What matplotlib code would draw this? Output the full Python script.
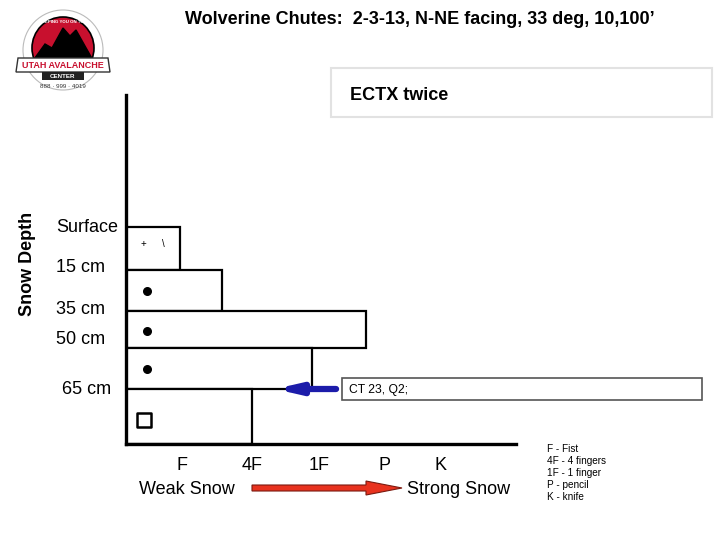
import numpy as np
import matplotlib
matplotlib.use("Agg")
import matplotlib.pyplot as plt
from matplotlib.patches import Rectangle, Circle, Polygon, FancyArrow
from matplotlib.transforms import blended_transform_factory

plt.rcParams['font.family'] = ['Liberation Sans', 'DejaVu Sans']

title = "Wolverine Chutes:  2-3-13, N-NE facing, 33 deg, 10,100\u2019"
note_test = "ECTX twice"
note_ct = "CT 23, Q2;"

# layers, top to bottom (schematic depth units below surface)
layer_top = [0, 43, 84, 121, 162]
layer_bottom = [43, 84, 121, 162, 217]
# hand hardness at right edge of each layer (F=1, 4F=2, 1F=3, P=4, K=5)
layer_hardness = [0.97, 1.62, 3.83, 3.0, 2.08]

depth_labels = ["Surface", "15 cm", "35 cm", "50 cm", "65 cm"]
depth_label_pos = [0, 41, 83, 113, 162]
depth_label_x = [56, 56, 56, 56, 62]

hard_labels = ["F", "4F", "1F", "P", "K"]
hard_pos = [1.0, 2.08, 3.11, 4.12, 4.98]

# grain form symbols (hardness-x, depth)
dot_x = [0.46, 0.46, 0.46]
dot_y = [64, 104, 142]
square_x = [0.42]
square_y = [193]
facet_text = [(0.40, 17, "+"), (0.71, 17, "\\")]

ct_depth = 162
ct_arrow = (3.37, 2.43)

legend_lines = ["F - Fist", "4F - 4 fingers", "1F - 1 finger", "P - pencil", "K - knife"]

W, H = 720, 540
fig = plt.figure(figsize=(7.2, 5.4), dpi=100)

# overlay in pixel coordinates for decorations
ov = fig.add_axes([0, 0, 1, 1], zorder=0)
ov.set_xlim(0, W)
ov.set_ylim(H, 0)
ov.axis('off')

ax = fig.add_axes([126 / W, 1 - 444 / H, (516 - 126) / W, (444 - 95) / H], zorder=2)
ax.patch.set_alpha(0)
x0 = 0.138
ax.set_xlim(x0, x0 + 6.0)
ax.set_ylim(217, -132)
for s in ['top', 'right']:
    ax.spines[s].set_visible(False)
for s in ['left', 'bottom']:
    ax.spines[s].set_linewidth(2.4)
    ax.spines[s].set_color('black')
ax.set_yticks([])
ax.set_xticks([])

heights = np.array(layer_bottom) - np.array(layer_top)
ax.barh(layer_top, np.array(layer_hardness) - x0, height=heights, left=x0,
        align='edge', color='white', edgecolor='black', linewidth=1.6, zorder=1)

ax.scatter(dot_x, dot_y, s=30, color='black', zorder=3)
ax.scatter(square_x, square_y, s=110, marker='s', facecolor='white',
           edgecolor='black', linewidth=1.8, zorder=3)
for fx, fy, t in facet_text:
    ax.text(fx, fy, t, fontsize=7, ha='center', va='center', zorder=3)

# hardness labels
tick_y = (444 - 466) / (444 - 95)
for p, lab in zip(hard_pos, hard_labels):
    ax.text(p, tick_y, lab, fontsize=13, ha='center', va='center',
            transform=blended_transform_factory(ax.transData, ax.transAxes))

# depth labels
tr = blended_transform_factory(fig.transFigure, ax.transData)
for lab, p, lx in zip(depth_labels, depth_label_pos, depth_label_x):
    ax.text(lx / W, p, lab, fontsize=13, ha='left', va='center', transform=tr)

# CT arrow
ax.annotate('', xy=(ct_arrow[1], ct_depth), xytext=(ct_arrow[0], ct_depth),
            arrowprops=dict(arrowstyle='-|>,head_width=0.3,head_length=1.3',
                            lw=4.5, color='#1c1caa', shrinkA=0, shrinkB=0), zorder=4)

# title and text
fig.text(420 / W, 1 - 20 / H, title, fontsize=13, fontweight='bold', ha='center', va='center')
fig.text(28 / W, 1 - 264 / H, "Snow Depth", fontsize=13, fontweight='bold',
         rotation=90, ha='center', va='center')

ov.add_patch(Rectangle((331, 68), 381, 49, facecolor='white', edgecolor='#e2e2e2', lw=1.5))
ov.text(350, 95, note_test, fontsize=13, fontweight='bold', ha='left', va='center')

ov.add_patch(Rectangle((342, 378), 360, 22, facecolor='white', edgecolor='#555555', lw=1.2))
ov.text(349, 389.5, note_ct, fontsize=8.7, ha='left', va='center')

# weak -> strong arrow
ov.text(139, 490, "Weak Snow", fontsize=13, ha='left', va='center')
ov.text(407, 490, "Strong Snow", fontsize=13, ha='left', va='center')
ov.add_patch(FancyArrow(252, 488, 150, 0, width=6, head_width=14, head_length=36,
                        length_includes_head=True, facecolor='#e8321e', edgecolor='#7a1a10', lw=0.8))

for i, t in enumerate(legend_lines):
    ov.text(547, 449 + i * 12, t, fontsize=7.2, ha='left', va='center')

# simplified Utah Avalanche Center logo
ov.add_patch(Circle((63, 50), 40, facecolor='white', edgecolor='#bbbbbb', lw=0.8))
ov.add_patch(Circle((63, 48), 31, facecolor='#c8102e', edgecolor='black', lw=1.2))
ov.add_patch(Polygon([(32, 62), (45, 44), (52, 48), (63, 28), (70, 36), (76, 30), (94, 62)],
                     closed=True, facecolor='black', edgecolor='black'))
ov.add_patch(Polygon([(18, 58), (108, 58), (110, 72), (16, 72)], closed=True,
                     facecolor='white', edgecolor='#333333', lw=1.0))
ov.text(63, 65, "UTAH AVALANCHE", fontsize=6.5, fontweight='bold', color='#c8102e',
        ha='center', va='center')
ov.add_patch(Rectangle((42, 72), 42, 8, facecolor='#222222', edgecolor='none'))
ov.text(63, 76, "CENTER", fontsize=4.5, fontweight='bold', color='white', ha='center', va='center')
ov.text(63, 87, "888 \u00b7 999 \u00b7 4019", fontsize=4.5, color='#333333', ha='center', va='center')
ov.text(63, 22, "KEEPING YOU ON TOP", fontsize=3.2, fontweight='bold', color='white',
        ha='center', va='center')

fig.savefig("out.png", dpi=100)
